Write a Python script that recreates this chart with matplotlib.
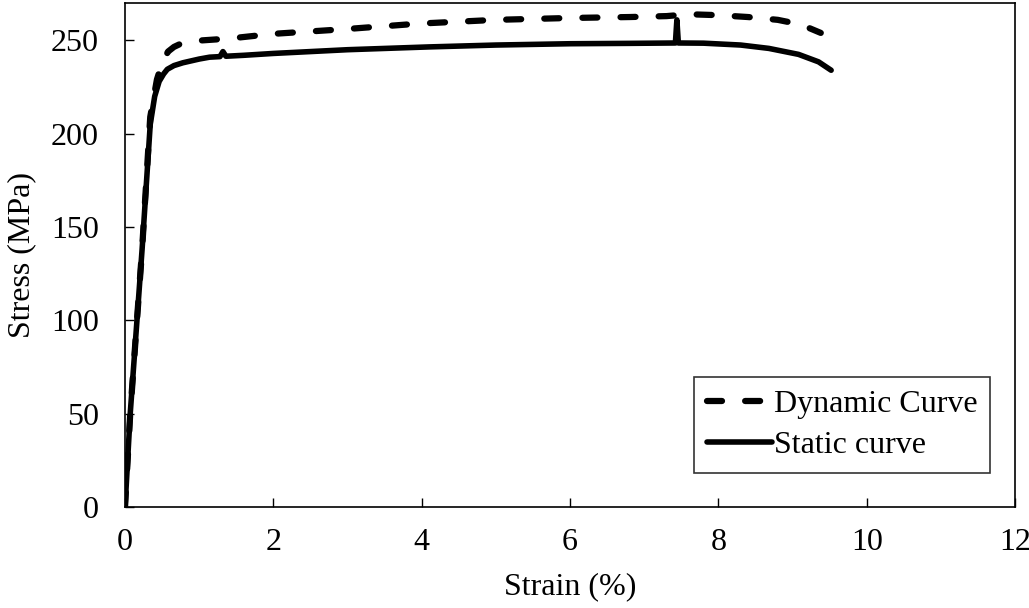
import matplotlib
matplotlib.use('Agg')
import matplotlib.pyplot as plt

plt.rcParams['font.family'] = ['Liberation Serif', 'DejaVu Serif']

# Dynamic curve (strain %, stress MPa)
dyn_strain = [0.0, 0.07, 0.23, 0.34, 0.43, 0.50, 0.58, 0.66, 0.74, 1.04, 1.41, 2.0, 2.96,
              3.97, 5.0, 6.0, 6.8, 7.3, 7.6, 8.0, 8.4, 8.8, 9.05, 9.2, 9.38]
dyn_stress = [0.0, 50, 138, 209, 229, 238, 244, 246.5, 248, 250, 251, 253.5, 256,
              259, 261, 262, 262.5, 263, 264, 263.5, 262.5, 261, 259, 257, 254]

# Static curve (strain %, stress MPa)
sta_strain = [0.0, 0.07, 0.23, 0.34, 0.40, 0.46, 0.52, 0.57, 0.66, 0.78, 1.0, 1.14, 1.28,
              1.32, 1.36, 1.6, 2.0, 3.0, 4.1, 5.0, 6.0, 6.8, 7.42, 7.44, 7.46, 7.8,
              8.3, 8.68, 9.08, 9.35, 9.52]
sta_stress = [0.0, 50, 138, 205, 220, 228, 232, 234.5, 236.5, 238, 240, 241, 241.3,
              244, 241.5, 242, 243, 245, 246.5, 247.5, 248.2, 248.4, 248.6, 261, 248.6, 248.5,
              247.5, 245.7, 242.5, 238.5, 234]

xticks = [0, 2, 4, 6, 8, 10, 12]
yticks = [0, 50, 100, 150, 200, 250]

fig = plt.figure(figsize=(10.29, 6.08), dpi=100)
ax = fig.add_axes([0.1215, 0.166, 0.865, 0.829])

ax.plot(dyn_strain, dyn_stress, color='black', lw=4.5, linestyle=(0, (2.4, 3.7)),
        dash_capstyle='round', solid_joinstyle='round', label='Dynamic Curve')
ax.plot(sta_strain, sta_stress, color='black', lw=4, solid_capstyle='round',
        solid_joinstyle='round', label='Static curve')

ax.set_xlim(0, 12)
ax.set_ylim(0, 270)
ax.set_xticks(xticks)
ax.set_yticks(yticks)
ax.tick_params(direction='in', length=6.5, width=1, labelsize=23)
ax.tick_params(axis='x', pad=15)
ax.tick_params(axis='y', pad=19)
for s in ax.spines.values():
    s.set_linewidth(1.2)

ax.set_xlabel('Strain (%)', fontsize=23)
ax.set_ylabel('Stress (MPa)', fontsize=23)
ax.xaxis.set_label_coords(0.5, -0.13)
ax.yaxis.set_label_coords(-0.1, 0.5)

leg = ax.legend(loc='lower right', bbox_to_anchor=(0.972, 0.068), fontsize=23,
                frameon=True, fancybox=False, edgecolor='black', handlelength=2.05,
                handletextpad=0.05, borderpad=0.4, labelspacing=0.35, borderaxespad=0)
leg.get_frame().set_linewidth(1.2)

fig.savefig('out.png', dpi=100)
